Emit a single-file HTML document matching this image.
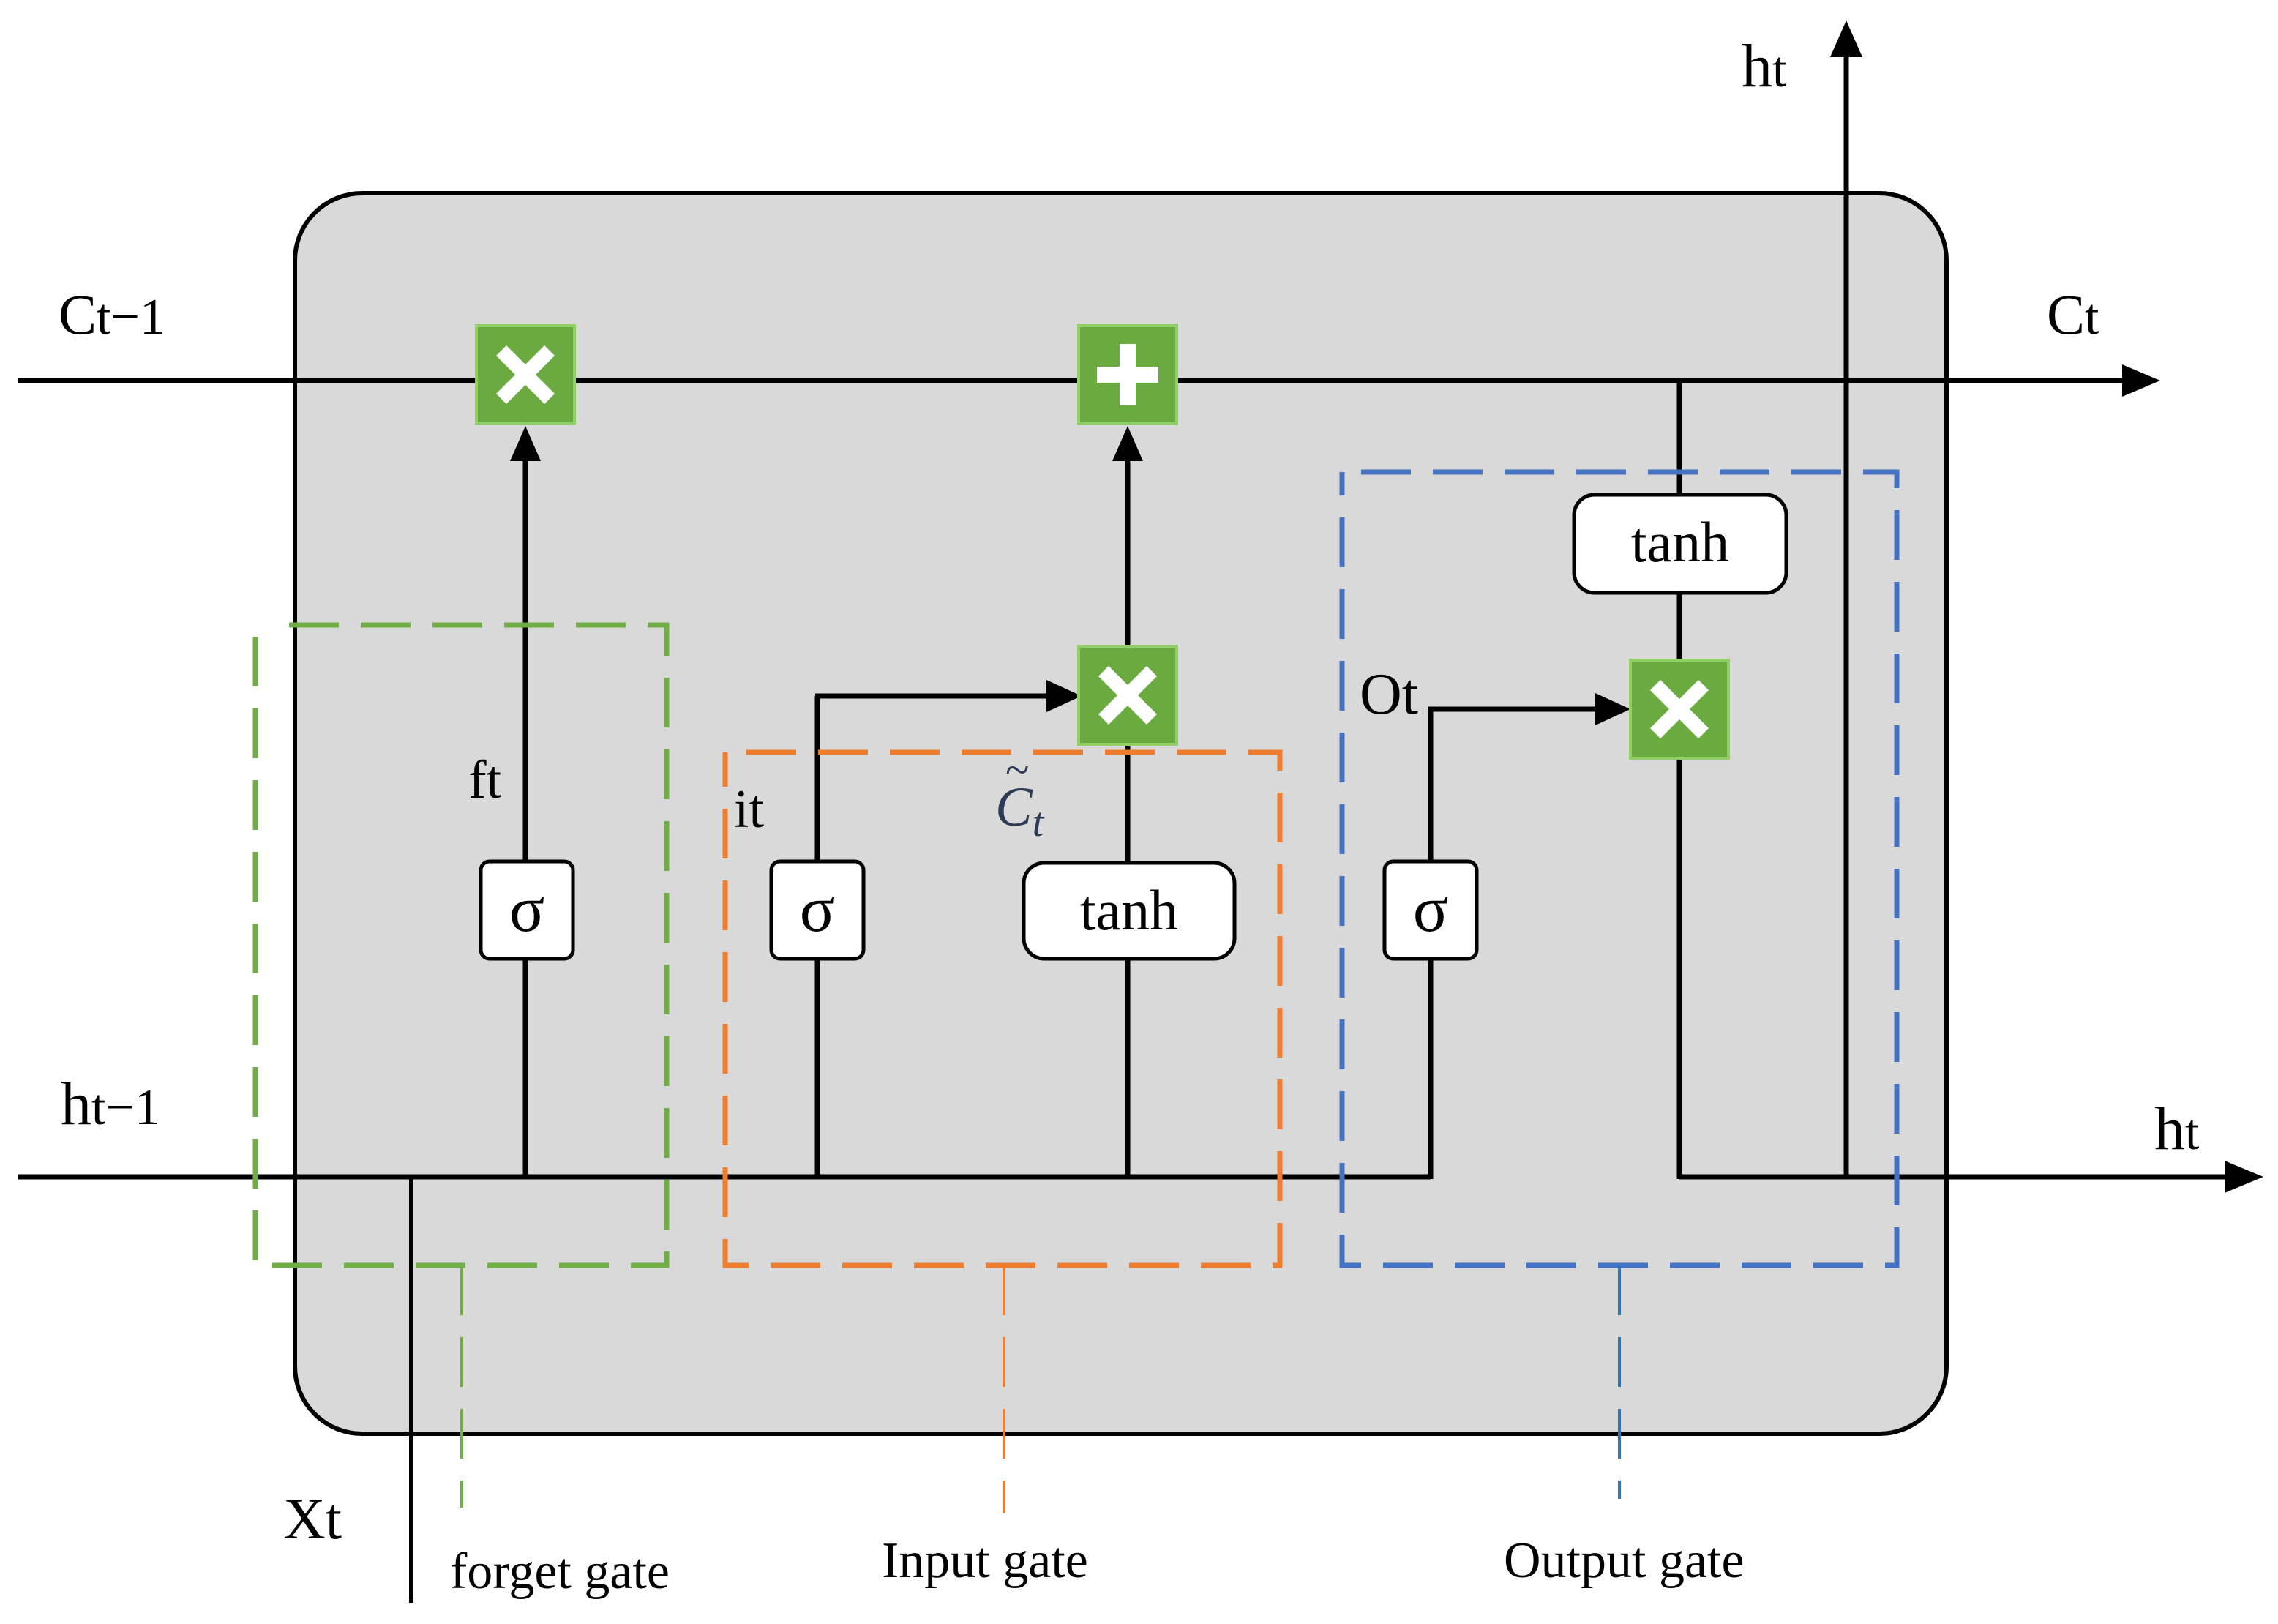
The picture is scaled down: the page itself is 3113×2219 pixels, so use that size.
<!DOCTYPE html>
<html><head><meta charset="utf-8"><style>html,body{margin:0;padding:0;background:#fff}svg{display:block}</style></head>
<body>
<svg width="3113" height="2219" viewBox="0 0 3113 2219" xmlns="http://www.w3.org/2000/svg" font-family="'Liberation Serif', serif">
<defs>
<g id="mul"><rect x="-67" y="-67" width="134" height="134" fill="#6aaa3f" stroke="#8fcf66" stroke-width="4"/><path d="M-40,-26 L-26,-40 L0,-14 L26,-40 L40,-26 L14,0 L40,26 L26,40 L0,14 L-26,40 L-40,26 L-14,0 z" fill="#fff"/></g>
</defs>
<rect x="403" y="264" width="2257" height="1695" rx="92" fill="#d9d9d9" stroke="#000" stroke-width="6"/>
<line x1="24" y1="520" x2="2920" y2="520" stroke="#000" stroke-width="7"/>
<path d="M2900,498 L2952,520 L2900,542 z"/>
<line x1="24" y1="1608" x2="1955" y2="1608" stroke="#000" stroke-width="7"/>
<line x1="2295" y1="1608" x2="3060" y2="1608" stroke="#000" stroke-width="7"/>
<path d="M3040,1586 L3093,1608 L3040,1630 z"/>
<line x1="2523" y1="1608" x2="2523" y2="70" stroke="#000" stroke-width="7"/>
<path d="M2501,78 L2523,28 L2545,78 z"/>
<line x1="562" y1="2190" x2="562" y2="1608" stroke="#000" stroke-width="6"/>
<line x1="718" y1="1608" x2="718" y2="620" stroke="#000" stroke-width="7"/>
<path d="M697,630 L718,582 L739,630 z"/>
<line x1="1117" y1="1608" x2="1117" y2="951" stroke="#000" stroke-width="7"/>
<line x1="1114" y1="951" x2="1440" y2="951" stroke="#000" stroke-width="7"/>
<path d="M1430,929 L1478,951 L1430,973 z"/>
<line x1="1541" y1="1608" x2="1541" y2="620" stroke="#000" stroke-width="7"/>
<path d="M1520,630 L1541,582 L1562,630 z"/>
<line x1="1955" y1="1611" x2="1955" y2="969" stroke="#000" stroke-width="7"/>
<line x1="1952" y1="969" x2="2190" y2="969" stroke="#000" stroke-width="7"/>
<path d="M2180,947 L2228,969 L2180,991 z"/>
<line x1="2295" y1="520" x2="2295" y2="1611" stroke="#000" stroke-width="7"/>
<g fill="none" stroke-width="7" stroke-dasharray="68,30">
<path d="M395,854 L911,854 L911,1729 L349,1729 L349,854" stroke="#70ad47"/>
<line x1="631" y1="1729" x2="631" y2="2060" stroke="#70ad47" stroke-width="4"/>
<path d="M1020,1028 L1749,1028 L1749,1729 L991,1729 L991,1028" stroke="#ed7d31"/>
<line x1="1372" y1="1729" x2="1372" y2="2068" stroke="#ed7d31" stroke-width="4"/>
<path d="M1860,645 L2592,645 L2592,1729 L1834,1729 L1834,645" stroke="#4472c4"/>
<line x1="2213" y1="1729" x2="2213" y2="2048" stroke="#2e75b6" stroke-width="4"/>
</g>
<use href="#mul" x="718" y="512"/>
<g transform="translate(1541,512)"><rect x="-67" y="-67" width="134" height="134" fill="#6aaa3f" stroke="#8fcf66" stroke-width="4"/><path d="M-11,-42 H11 V-11 H42 V11 H11 V42 H-11 V11 H-42 V-11 H-11 z" fill="#fff"/></g>
<use href="#mul" x="1541" y="950"/>
<use href="#mul" x="2295" y="969"/>
<g fill="#fff" stroke="#000" stroke-width="5">
<rect x="657" y="1177" width="126" height="133" rx="12"/>
<rect x="1054" y="1177" width="126" height="133" rx="12"/>
<rect x="1892" y="1177" width="126" height="133" rx="12"/>
<rect x="1399" y="1179" width="288" height="131" rx="28"/>
<rect x="2151" y="676" width="290" height="134" rx="28"/>
</g>
<g font-size="90" text-anchor="middle">
<text x="720" y="1272">σ</text><text x="1117" y="1272">σ</text><text x="1955" y="1272">σ</text>
</g>
<g font-size="78" text-anchor="middle">
<text x="1543" y="1270">tanh</text><text x="2296" y="767">tanh</text>
</g>
<g font-size="78">
<text x="80" y="456">C<tspan font-size="70">t−1</tspan></text>
<text x="2797" y="456">C<tspan font-size="70">t</tspan></text>
<text x="2380" y="118" font-size="84">h<tspan font-size="70">t</tspan></text>
<text x="83" y="1536" font-size="84">h<tspan font-size="70">t−1</tspan></text>
<text x="2944" y="1570" font-size="84">h<tspan font-size="70">t</tspan></text>
<text x="640" y="1090" font-size="74">ft</text>
<text x="1003" y="1130" font-size="74">it</text>
<text x="1858" y="975" font-size="80">Ot</text>
<text x="387" y="2102" font-size="80">Xt</text>
</g>
<text x="1360" y="1128" font-size="76" font-style="italic" fill="#2b3a55">C<tspan font-size="56" dy="14">t</tspan></text>
<text x="1374" y="1072" font-size="60" fill="#2b3a55">~</text>
<g font-size="70">
<text x="615" y="2170">forget gate</text>
<text x="1205" y="2155">Input gate</text>
<text x="2055" y="2155">Output gate</text>
</g>
</svg>
</body></html>
